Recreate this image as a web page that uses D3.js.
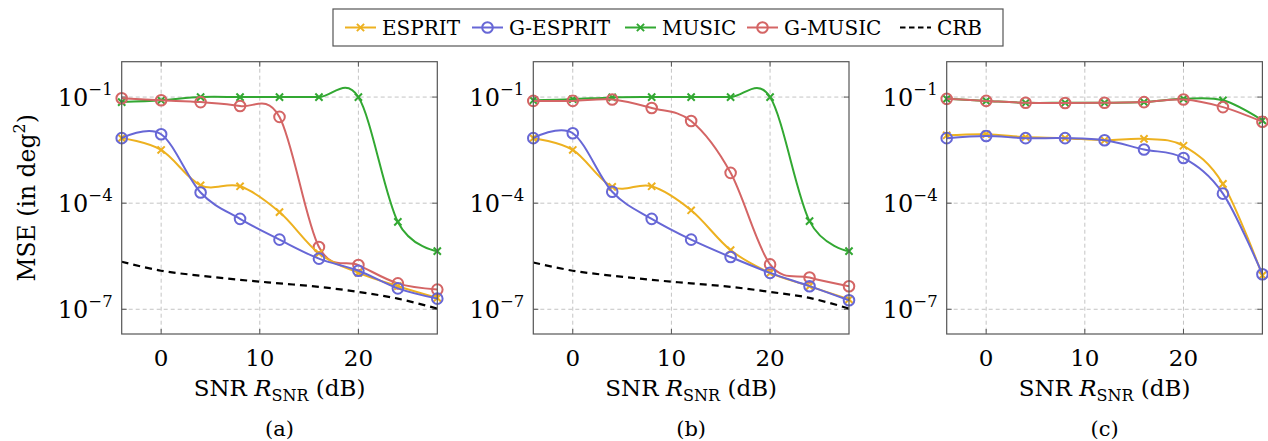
<!DOCTYPE html>
<html>
<head>
<meta charset="utf-8">
<script src="https://cdn.jsdelivr.net/npm/d3@7"></script>
<style>
  body { margin: 0; background: #fff; }
</style>
</head>
<body>
<div id="chart"></div>
<script>
// SNR values (dB)
var snr = [-4, 0, 4, 8, 12, 16, 20, 24, 28];

// panel (a)
var espritA  = [6.9e-3, 3.2e-3, 3.2e-4, 3.0e-4, 5.6e-5, 3.8e-6, 1.07e-6, 4.5e-7, 2.1e-7];
var gEspritA = [6.9e-3, 8.9e-3, 2.0e-4, 3.6e-5, 9.3e-6, 2.7e-6, 1.23e-6, 3.9e-7, 2.0e-7];
var musicA   = [7.2e-2, 8.1e-2, 1.0e-1, 1.0e-1, 1.0e-1, 1.0e-1, 1.0e-1, 2.95e-5, 4.4e-6];
var gMusicA  = [9.3e-2, 8.1e-2, 7.2e-2, 5.6e-2, 2.75e-2, 5.75e-6, 1.78e-6, 5.4e-7, 3.6e-7];
var crbA     = [2.2e-6, 1.23e-6, 8.9e-7, 6.8e-7, 5.4e-7, 4.3e-7, 3.1e-7, 2.0e-7, 1.05e-7];

// panel (b)
var espritB  = [6.9e-3, 3.2e-3, 2.9e-4, 3.0e-4, 6.3e-5, 4.7e-6, 1.07e-6, 4.5e-7, 1.9e-7];
var gEspritB = [6.9e-3, 9.5e-3, 2.1e-4, 3.6e-5, 9.3e-6, 3.0e-6, 1.07e-6, 4.5e-7, 1.8e-7];
var musicB   = [8.1e-2, 8.7e-2, 9.8e-2, 1.0e-1, 1.0e-1, 1.0e-1, 1.0e-1, 3.1e-5, 4.4e-6];
var gMusicB  = [7.8e-2, 7.8e-2, 8.5e-2, 4.9e-2, 2.1e-2, 7.2e-4, 1.86e-6, 7.9e-7, 4.5e-7];
var crbB     = [2.1e-6, 1.23e-6, 8.9e-7, 6.8e-7, 5.4e-7, 4.3e-7, 3.1e-7, 2.1e-7, 1.05e-7];

// panel (c)
var espritC  = [8.3e-3, 8.9e-3, 7.4e-3, 6.9e-3, 6.0e-3, 6.6e-3, 4.2e-3, 3.5e-4, 9.1e-7];
var gEspritC = [6.9e-3, 7.9e-3, 6.9e-3, 6.9e-3, 6.0e-3, 3.3e-3, 1.9e-3, 1.86e-4, 9.8e-7];
var musicC   = [8.9e-2, 7.8e-2, 6.9e-2, 6.9e-2, 6.9e-2, 7.2e-2, 8.9e-2, 8.1e-2, 2.2e-2];
var gMusicC  = [8.9e-2, 7.8e-2, 6.9e-2, 6.8e-2, 6.9e-2, 7.2e-2, 8.5e-2, 5.2e-2, 2.0e-2];

var xTicks = [0, 10, 20];
var yTickExps = [-1, -4, -7];
var seriesNames = ["ESPRIT", "G-ESPRIT", "MUSIC", "G-MUSIC", "CRB"];
var captions = ["(a)", "(b)", "(c)"];

var colors = {"ESPRIT": "#edb120", "G-ESPRIT": "#6767d6", "MUSIC": "#32a832", "G-MUSIC": "#d46565", "CRB": "#000"};
var markers = {"ESPRIT": "x", "G-ESPRIT": "o", "MUSIC": "x", "G-MUSIC": "o", "CRB": null};

var W = 1268, H = 441;
var plotTop = 61.7, plotBottom = 334;
var serif = "'DejaVu Serif', 'Liberation Serif', serif";
var panels = [
  {left: 121.7, right: 437.3, cap: captions[0], s: [espritA, gEspritA, musicA, gMusicA, crbA]},
  {left: 533.3, right: 849,   cap: captions[1], s: [espritB, gEspritB, musicB, gMusicB, crbB]},
  {left: 946.7, right: 1262.4, cap: captions[2], s: [espritC, gEspritC, musicC, gMusicC, null]}
];

var svg = d3.select("#chart").append("svg").attr("width", W).attr("height", H)
  .style("font-family", serif);

function drawMarker(g, kind, x, y, col){
  if(kind === "x"){
    var m = 3.6;
    g.append("path").attr("d", "M" + (x-m) + "," + (y-m) + "L" + (x+m) + "," + (y+m) +
        "M" + (x-m) + "," + (y+m) + "L" + (x+m) + "," + (y-m))
      .attr("stroke", col).attr("stroke-width", 2).attr("fill", "none");
  } else if(kind === "o"){
    g.append("circle").attr("cx", x).attr("cy", y).attr("r", 5.3)
      .attr("fill", "none").attr("stroke", col).attr("stroke-width", 2);
  }
}

panels.forEach(function(p, pi){
  var x = d3.scaleLinear().domain([-4, 28]).range([p.left, p.right]);
  var y = d3.scaleLog().domain([2e-8, 1]).range([plotBottom, plotTop]);
  var g = svg.append("g");

  // grid
  g.selectAll(".gx").data(xTicks).enter().append("line")
    .attr("x1", function(d){return x(d);}).attr("x2", function(d){return x(d);})
    .attr("y1", plotTop).attr("y2", plotBottom)
    .attr("stroke", "#c4c4c4").attr("stroke-width", 1).attr("stroke-dasharray", "4,3");
  g.selectAll(".gy").data(yTickExps).enter().append("line")
    .attr("y1", function(d){return y(Math.pow(10, d));}).attr("y2", function(d){return y(Math.pow(10, d));})
    .attr("x1", p.left).attr("x2", p.right)
    .attr("stroke", "#c4c4c4").attr("stroke-width", 1).attr("stroke-dasharray", "4,3");

  // ticks on all four sides
  xTicks.forEach(function(t){
    g.append("line").attr("x1", x(t)).attr("x2", x(t)).attr("y1", plotBottom).attr("y2", plotBottom - 5).attr("stroke", "#555");
    g.append("line").attr("x1", x(t)).attr("x2", x(t)).attr("y1", plotTop).attr("y2", plotTop + 5).attr("stroke", "#555");
    g.append("text").attr("x", x(t)).attr("y", plotBottom + 32).attr("text-anchor", "middle")
      .style("font-size", "23px").text(t);
  });
  yTickExps.forEach(function(e){
    var yy = y(Math.pow(10, e));
    g.append("line").attr("x1", p.left).attr("x2", p.left + 5).attr("y1", yy).attr("y2", yy).attr("stroke", "#555");
    g.append("line").attr("x1", p.right).attr("x2", p.right - 5).attr("y1", yy).attr("y2", yy).attr("stroke", "#555");
    var t = g.append("text").attr("x", p.left - 9).attr("y", yy + 9).attr("text-anchor", "end")
      .style("font-size", "24px");
    t.append("tspan").text("10");
    t.append("tspan").attr("dy", -11).style("font-size", "16.5px").text("\u2212" + Math.abs(e));
  });

  // series
  var line = d3.line()
    .x(function(d){return x(d[0]);})
    .y(function(d){return y(d[1]);})
    .curve(d3.curveCardinal.tension(0));

  var clip = "clip" + pi;
  svg.append("clipPath").attr("id", clip).append("rect")
    .attr("x", p.left).attr("y", plotTop).attr("width", p.right - p.left).attr("height", plotBottom - plotTop);

  var order = [4, 2, 3, 0, 1];
  order.forEach(function(si){
    var vals = p.s[si];
    if(!vals) return;
    var name = seriesNames[si];
    var pts = snr.map(function(s, i){return [s, vals[i]];});
    g.append("path").datum(pts).attr("d", line)
      .attr("clip-path", "url(#" + clip + ")")
      .attr("fill", "none").attr("stroke", colors[name])
      .attr("stroke-width", name === "CRB" ? 2.2 : 2)
      .attr("stroke-dasharray", name === "CRB" ? "7,5" : null);
    if(markers[name]){
      pts.forEach(function(d){ drawMarker(g, markers[name], x(d[0]), y(d[1]), colors[name]); });
    }
  });

  // frame
  g.append("rect").attr("x", p.left).attr("y", plotTop).attr("width", p.right - p.left).attr("height", plotBottom - plotTop)
    .attr("fill", "none").attr("stroke", "#555").attr("stroke-width", 1.2);

  // x label
  var cx = (p.left + p.right) / 2;
  var xl = g.append("text").attr("x", cx).attr("y", 396).attr("text-anchor", "middle").style("font-size", "23px");
  xl.append("tspan").text("SNR ");
  xl.append("tspan").style("font-style", "italic").text("R");
  xl.append("tspan").attr("dy", 5).style("font-size", "16px").text("SNR");
  xl.append("tspan").attr("dy", -5).text(" (dB)");

  g.append("text").attr("x", cx).attr("y", 436).attr("text-anchor", "middle").style("font-size", "21px").text(p.cap);
});

// y axis label
var yl = svg.append("text").attr("transform", "translate(35," + ((plotTop + plotBottom) / 2) + ") rotate(-90)")
  .attr("text-anchor", "middle").style("font-size", "23.5px");
yl.append("tspan").text("MSE (in deg");
yl.append("tspan").attr("dy", -10).style("font-size", "16px").text("2");
yl.append("tspan").attr("dy", 10).text(")");

// legend
var lg = svg.append("g");
lg.append("rect").attr("x", 333).attr("y", 9).attr("width", 670).attr("height", 37)
  .attr("fill", "#fff").attr("stroke", "#555").attr("stroke-width", 1.2);
var legX = [345, 472, 625, 747, 900];
seriesNames.forEach(function(name, i){
  var lx = legX[i], ly = 27.5;
  lg.append("line").attr("x1", lx).attr("x2", lx + 31).attr("y1", ly).attr("y2", ly)
    .attr("stroke", colors[name]).attr("stroke-width", name === "CRB" ? 2.2 : 2)
    .attr("stroke-dasharray", name === "CRB" ? "5.5,3.5" : null);
  if(markers[name]) drawMarker(lg, markers[name], lx + 15.5, ly, colors[name]);
  lg.append("text").attr("x", lx + 37).attr("y", ly + 7).style("font-size", "20px").text(name);
});
</script>
</body>
</html>
